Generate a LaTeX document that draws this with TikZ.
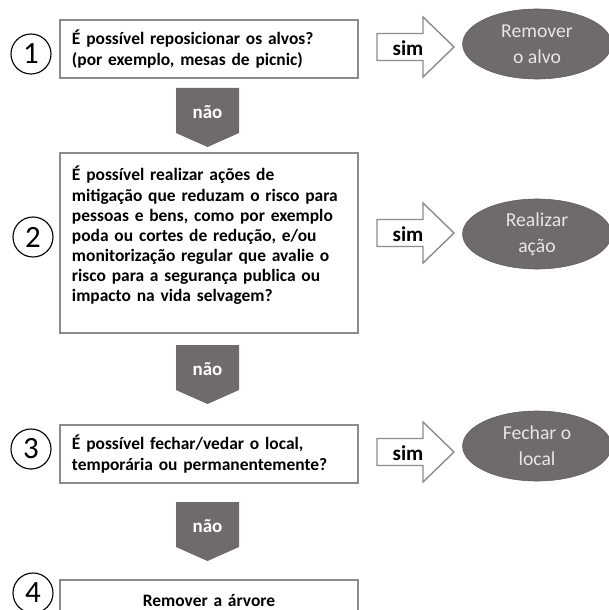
\documentclass[tikz,border=0pt]{standalone}
\usepackage{fontspec}
\setmainfont{Carlito}
\usetikzlibrary{positioning}
\usetikzlibrary{shapes.geometric}
\definecolor{boxgrey}{HTML}{8C8C8C}
\definecolor{arrowgrey}{HTML}{6F6B6A}
\definecolor{ovaltext}{HTML}{E6E6E6}

\begin{document}
\begin{tikzpicture}[x=0.025cm,y=-0.025cm,
  question/.style={draw=boxgrey,line width=1.1pt,minimum width=7.45cm,text width=6.85cm,inner xsep=0.3cm,align=left,font=\fontsize{12.4}{14.3}\selectfont\bfseries},
  stepnum/.style={draw,line width=0.8pt,circle,minimum size=1cm,inner sep=0pt,font=\fontsize{22}{22}\selectfont},
  outcome/.style={ellipse,draw=arrowgrey!85!black,fill=arrowgrey,minimum width=3.72cm,minimum height=1.75cm,inner sep=0pt,align=center,text=ovaltext,font=\fontsize{14}{18.5}\selectfont},
  naoarrow/.pic={\fill[arrowgrey] (-31.5,0) -- (31.5,0) -- (31.5,45) -- (0,59) -- (-31.5,45) -- cycle;
    \node[text=white,font=\fontsize{13.5}{13.5}\selectfont\bfseries] (-txt) at (0,24) {não};},
  simarrow/.pic={\draw[boxgrey,fill=white,line width=1pt] (0,-13.5) -- (46,-13.5) -- (46,-30) -- (77,0) -- (46,30) -- (46,13.5) -- (0,13.5) -- cycle;
    \node[font=\fontsize{15}{15}\selectfont\bfseries] (-txt) at (31,1) {sim};}]
  \useasboundingbox (0,0) rectangle (609,610);
  \clip (0,0) rectangle (609,610);
  %question 1
  \node[question,minimum height=1.45cm] (q1) at (209,49) {É possível reposicionar os alvos?\\(por exemplo, mesas de picnic)};
  \node[stepnum] (n1) at (31,54) {1};
  \pic (s1) at (377,47) {simarrow};
  \node[outcome] (r1) at (537,44) {Remover\\o alvo};
  \pic (a1) at (207.5,88) {naoarrow};
  %question 2
  \node[question,minimum height=4.5cm] (q2) at (209,243) {É possível realizar ações de\\mitigação que reduzam o risco para\\pessoas e bens, como por exemplo\\poda ou cortes de redução, e/ou\\monitorização regular que avalie o\\risco para a segurança publica ou\\impacto na vida selvagem?\rule[-0.45cm]{0pt}{0pt}};
  \node[stepnum] (n2) at (33,237) {2};
  \pic (s2) at (377,233) {simarrow};
  \node[outcome] (r2) at (537,234) {Realizar\\ação};
  \pic (a2) at (207.5,345) {naoarrow};
  %question 3
  \node[question,minimum height=1.45cm] (q3) at (209,454) {É possível fechar/vedar o local,\\temporária ou permanentemente?};
  \node[stepnum] (n3) at (31,449) {3};
  \pic (s3) at (377,452) {simarrow};
  \node[outcome] (r3) at (537,446) {Fechar o\\local};
  \pic (a3) at (207.5,502) {naoarrow};
  %last step
  \node[question,minimum height=1.05cm,anchor=north,align=center] (q4) at (209,579) {Remover a árvore};
  \node[stepnum] (n4) at (33,593) {4};
\end{tikzpicture}
\end{document}
